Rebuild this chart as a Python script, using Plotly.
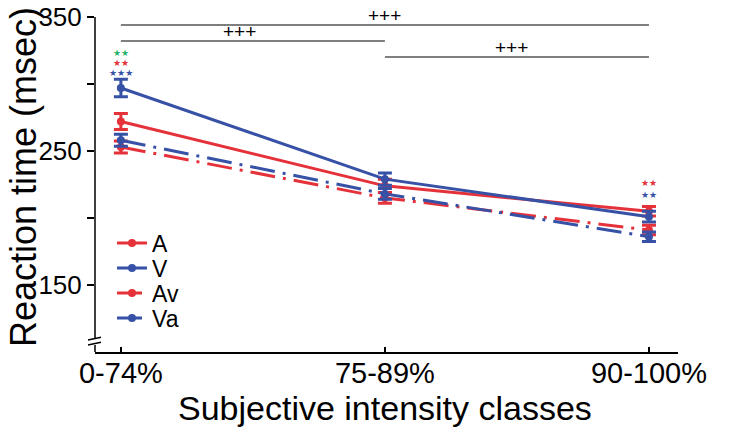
import plotly.graph_objects as go

categories = ["0-74%", "75-89%", "90-100%"]
A_mean = [272, 224, 205]
A_err = [6, 5, 3.5]
V_mean = [297, 229, 201]
V_err = [6.5, 4.5, 4]
Av_mean = [253, 215, 191]
Av_err = [4.5, 4, 3.5]
Va_mean = [258, 218, 186]
Va_err = [4.5, 4, 3.5]

RED = "#e5323a"
BLUE = "#3651a6"
GREEN = "#27b36b"
FONT = "Liberation Sans, Arial, sans-serif"

xpos = list(range(len(categories)))

series = [
    ("A", A_mean, A_err, RED, "solid"),
    ("V", V_mean, V_err, BLUE, "solid"),
    ("Av", Av_mean, Av_err, RED, "25px,8px,3px,8px"),
    ("Va", Va_mean, Va_err, BLUE, "25px,8px,3px,8px"),
]
legend_ids = ["legend", "legend2", "legend3", "legend4"]
legend_py = [243, 268, 293, 318]

fig = go.Figure()
for (name, m, e, c, d), lid in zip(series, legend_ids):
    fig.add_trace(go.Scatter(
        x=xpos, y=m, name=name, mode="lines+markers", legend=lid,
        line=dict(color=c, width=3, dash=d),
        marker=dict(color=c, size=8),
        error_y=dict(type="data", array=e, visible=True, color=c, thickness=3, width=7),
    ))

PW, PH = 583, 335
shapes = []
# y axis line with break
shapes.append(dict(type="line", xref="paper", yref="y", x0=0, x1=0, y0=350, y1=110,
                   line=dict(color="black", width=1.5)))
shapes.append(dict(type="line", xref="paper", yref="paper", x0=0, x1=0, y0=0.021, y1=0,
                   line=dict(color="black", width=1.5)))
for yb in [0.040, 0.025]:
    shapes.append(dict(type="line", xref="paper", yref="paper", x0=-7/PW, x1=6/PW,
                       y0=yb - 0.004, y1=yb + 0.004, line=dict(color="black", width=1.5)))

# significance bars
sig_bars = [(0, 2, 344), (0, 1, 332.1), (1, 2, 320.1)]
sig_text_x = [1, 0.45, 1.48]
for (a, b, yv) in sig_bars:
    shapes.append(dict(type="line", xref="x", yref="y", x0=a, x1=b, y0=yv, y1=yv,
                       line=dict(color="#555555", width=1.5)))

annotations = []
for (a, b, yv), tx in zip(sig_bars, sig_text_x):
    annotations.append(dict(x=tx, y=yv, xref="x", yref="y", text="+++", showarrow=False,
                            yanchor="bottom", yshift=-3, font=dict(size=19, color="black", family=FONT)))

stars = [
    (0, 323, "★★", GREEN), (0, 316, "★★", RED), (0, 308.5, "★★★", BLUE),
    (2, 226, "★★", RED), (2, 217, "★★", BLUE),
]
for x, y, t, c in stars:
    annotations.append(dict(x=x, y=y, xref="x", yref="y", text=t, showarrow=False,
                            font=dict(size=9, color=c, family="DejaVu Sans")))

# axis titles
annotations.append(dict(x=1, y=(352 - 408) / PH, xref="x", yref="paper",
                        text="Subjective intensity classes", showarrow=False,
                        xanchor="center", yanchor="middle",
                        font=dict(size=34, family=FONT, color="black")))
annotations.append(dict(x=(23 - 95) / PW, y=(352 - 177) / PH, xref="paper", yref="paper",
                        text="Reaction time (msec)", showarrow=False, textangle=-90,
                        xanchor="center", yanchor="middle",
                        font=dict(size=36, family=FONT, color="black")))

legend_layout = {}
for lid, py in zip(legend_ids, legend_py):
    legend_layout[lid] = dict(
        x=(112 - 95) / PW, y=(352 - py) / PH, xanchor="left", yanchor="middle",
        font=dict(size=23, family=FONT), bgcolor="rgba(0,0,0,0)",
        itemwidth=30, borderwidth=0,
    )

ML, MT = 95, 17
fig.update_layout(
    width=733, height=432,
    margin=dict(l=ML, r=733 - ML - PW, t=MT, b=432 - MT - PH, autoexpand=False),
    paper_bgcolor="white", plot_bgcolor="white",
    font=dict(family=FONT, color="black"),
    shapes=shapes, annotations=annotations,
    showlegend=True,
    **legend_layout,
)
fig.update_xaxes(
    range=[-0.098, 2.11], tickvals=xpos, ticktext=categories, automargin=False,
    showline=True, linecolor="black", linewidth=1.5, showgrid=False, zeroline=False,
    ticks="inside", ticklen=5, tickwidth=1.5, tickcolor="black",
    tickfont=dict(size=29, family=FONT), ticklabelstandoff=-6,
)
fig.update_yaxes(
    range=[100, 350], tickvals=[150, 200, 250, 300, 350], ticktext=["150", "", "250", "", "350"],
    automargin=False, ticklabeloverflow="allow",
    showline=False, showgrid=False, zeroline=False,
    ticks="outside", ticklen=7, tickwidth=1.5, tickcolor="black",
    tickfont=dict(size=26, family=FONT),
)

fig.write_html("out.html", config={"displayModeBar": False},
               post_script="document.body.style.margin='0';document.body.style.padding='0';")
